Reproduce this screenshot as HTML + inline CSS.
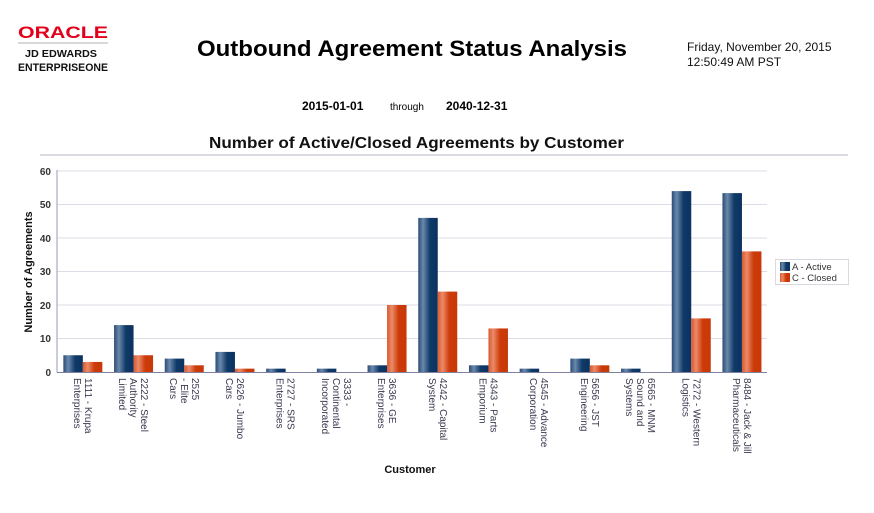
<!DOCTYPE html>
<html><head><meta charset="utf-8"><style>
html,body{margin:0;padding:0;background:#fff;}
svg{display:block;font-family:"Liberation Sans",Arial,sans-serif;}
</style></head><body>
<svg width="874" height="513" viewBox="0 0 874 513" xmlns="http://www.w3.org/2000/svg">
<defs>
<linearGradient id="gb" x1="0" y1="0" x2="1" y2="0">
<stop offset="0" stop-color="#2a4c78"/><stop offset="0.25" stop-color="#6a88aa"/><stop offset="0.6" stop-color="#0f3a68"/><stop offset="1" stop-color="#0b3260"/>
</linearGradient>
<linearGradient id="go" x1="0" y1="0" x2="1" y2="0">
<stop offset="0" stop-color="#d85a30"/><stop offset="0.25" stop-color="#ec8a68"/><stop offset="0.6" stop-color="#cc3a08"/><stop offset="1" stop-color="#c83808"/>
</linearGradient>
</defs>
<!-- logo -->
<text x="18" y="38" font-size="17" font-weight="bold" fill="#e2001a" textLength="90" lengthAdjust="spacingAndGlyphs">ORACLE</text>
<line x1="18" y1="43" x2="108" y2="43" stroke="#999" stroke-width="0.7"/>
<text x="25" y="57" font-size="10" font-weight="bold" fill="#111" textLength="72" lengthAdjust="spacingAndGlyphs">JD EDWARDS</text>
<text x="18" y="71" font-size="11" font-weight="bold" fill="#111" textLength="90" lengthAdjust="spacingAndGlyphs">ENTERPRISEONE</text>
<!-- titles -->
<text x="197" y="56" font-size="22" font-weight="bold" fill="#000" textLength="430" lengthAdjust="spacingAndGlyphs">Outbound Agreement Status Analysis</text>
<text x="687" y="51" font-size="12" fill="#111">Friday, November 20, 2015</text>
<text x="687" y="66" font-size="12" fill="#111">12:50:49 AM PST</text>
<text x="302" y="110" font-size="12" font-weight="bold" fill="#000">2015-01-01</text>
<text x="390" y="110" font-size="10" fill="#000">through</text>
<text x="446" y="110" font-size="12" font-weight="bold" fill="#000">2040-12-31</text>
<text x="209" y="148" font-size="16" font-weight="bold" fill="#111" textLength="415" lengthAdjust="spacingAndGlyphs">Number of Active/Closed Agreements by Customer</text>
<line x1="40" y1="155" x2="848" y2="155" stroke="#cfcfdc" stroke-width="1.5"/>
<!-- grid -->
<g stroke="#dcdce6" stroke-width="1">
<line x1="57" y1="171" x2="767" y2="171"/><line x1="57" y1="204.5" x2="767" y2="204.5"/>
<line x1="57" y1="238" x2="767" y2="238"/><line x1="57" y1="271.5" x2="767" y2="271.5"/>
<line x1="57" y1="305" x2="767" y2="305"/><line x1="57" y1="338.5" x2="767" y2="338.5"/>
</g>
<g font-size="10" font-weight="bold" fill="#333" text-anchor="end">
<text x="51" y="175">60</text><text x="51" y="208">50</text><text x="51" y="242">40</text>
<text x="51" y="275">30</text><text x="51" y="309">20</text><text x="51" y="342">10</text><text x="51" y="376">0</text>
</g>
<text transform="translate(32,272) rotate(-90)" font-size="11" font-weight="bold" fill="#111" text-anchor="middle">Number of Agreements</text>
<!-- bars -->
<g transform="translate(0,372) scale(1,-3.35)">
<g fill="url(#gb)">
<rect x="63.35" y="0" width="19.5" height="5"/>
<rect x="114.05" y="0" width="19.5" height="14"/>
<rect x="164.75" y="0" width="19.5" height="4"/>
<rect x="215.45" y="0" width="19.5" height="6"/>
<rect x="266.15" y="0" width="19.5" height="1"/>
<rect x="316.85" y="0" width="19.5" height="1"/>
<rect x="367.55" y="0" width="19.5" height="2"/>
<rect x="418.25" y="0" width="19.5" height="46"/>
<rect x="468.95" y="0" width="19.5" height="2"/>
<rect x="519.65" y="0" width="19.5" height="1"/>
<rect x="570.35" y="0" width="19.5" height="4"/>
<rect x="621.05" y="0" width="19.5" height="1"/>
<rect x="671.75" y="0" width="19.5" height="54"/>
<rect x="722.45" y="0" width="19.5" height="53.4"/>
</g>
<g fill="url(#go)">
<rect x="82.85" y="0" width="19.5" height="3"/>
<rect x="133.55" y="0" width="19.5" height="5"/>
<rect x="184.25" y="0" width="19.5" height="2"/>
<rect x="234.95" y="0" width="19.5" height="1"/>
<rect x="387.05" y="0" width="19.5" height="20"/>
<rect x="437.75" y="0" width="19.5" height="24"/>
<rect x="488.45" y="0" width="19.5" height="13"/>
<rect x="589.85" y="0" width="19.5" height="2"/>
<rect x="691.25" y="0" width="19.5" height="16"/>
<rect x="741.95" y="0" width="19.5" height="36"/>
</g>
</g>
<line x1="57" y1="170" x2="57" y2="372.5" stroke="#9a9ab4" stroke-width="1"/>
<line x1="57" y1="372.5" x2="767" y2="372.5" stroke="#8080a0" stroke-width="1"/>
<!-- x labels -->
<g font-size="10" fill="#3a3a50">
<text transform="translate(84.85,378) rotate(90)"><tspan x="0" dy="0">1111 - Krupa</tspan><tspan x="0" dy="11">Enterprises</tspan></text>
<text transform="translate(141.05,378) rotate(90)"><tspan x="0" dy="0">2222 - Steel</tspan><tspan x="0" dy="11">Authority</tspan><tspan x="0" dy="11">Limited</tspan></text>
<text transform="translate(191.75,378) rotate(90)"><tspan x="0" dy="0">2525</tspan><tspan x="0" dy="11">- Elite</tspan><tspan x="0" dy="11">Cars</tspan></text>
<text transform="translate(236.95,378) rotate(90)"><tspan x="0" dy="0">2626 - Jumbo</tspan><tspan x="0" dy="11">Cars</tspan></text>
<text transform="translate(287.65,378) rotate(90)"><tspan x="0" dy="0">2727 - SRS</tspan><tspan x="0" dy="11">Enterprises</tspan></text>
<text transform="translate(343.85,378) rotate(90)"><tspan x="0" dy="0">3333 -</tspan><tspan x="0" dy="11">Continental</tspan><tspan x="0" dy="11">Incorporated</tspan></text>
<text transform="translate(389.05,378) rotate(90)"><tspan x="0" dy="0">3636 - GE</tspan><tspan x="0" dy="11">Enterprises</tspan></text>
<text transform="translate(439.75,378) rotate(90)"><tspan x="0" dy="0">4242 - Capital</tspan><tspan x="0" dy="11">System</tspan></text>
<text transform="translate(490.45,378) rotate(90)"><tspan x="0" dy="0">4343 - Parts</tspan><tspan x="0" dy="11">Emporium</tspan></text>
<text transform="translate(541.15,378) rotate(90)"><tspan x="0" dy="0">4545 - Advance</tspan><tspan x="0" dy="11">Corporation</tspan></text>
<text transform="translate(591.85,378) rotate(90)"><tspan x="0" dy="0">5656 - JST</tspan><tspan x="0" dy="11">Engineering</tspan></text>
<text transform="translate(648.05,378) rotate(90)"><tspan x="0" dy="0">6565 - MNM</tspan><tspan x="0" dy="11">Sound and</tspan><tspan x="0" dy="11">Systems</tspan></text>
<text transform="translate(693.25,378) rotate(90)"><tspan x="0" dy="0">7272 - Western</tspan><tspan x="0" dy="11">Logistics</tspan></text>
<text transform="translate(743.95,378) rotate(90)"><tspan x="0" dy="0">8484 - Jack &amp; Jill</tspan><tspan x="0" dy="11">Pharmaceuticals</tspan></text>
</g>
<text x="410" y="473" font-size="11" font-weight="bold" fill="#111" text-anchor="middle">Customer</text>
<!-- legend -->
<rect x="775.5" y="259.5" width="73" height="25" fill="#fff" stroke="#d8d8e0"/>
<rect x="780" y="262" width="10" height="9" fill="url(#gb)"/>
<rect x="780" y="273" width="10" height="9" fill="url(#go)"/>
<text x="792" y="270" font-size="9.5" fill="#333">A - Active</text>
<text x="792" y="281" font-size="9.5" fill="#333">C - Closed</text>
</svg>
</body></html>
